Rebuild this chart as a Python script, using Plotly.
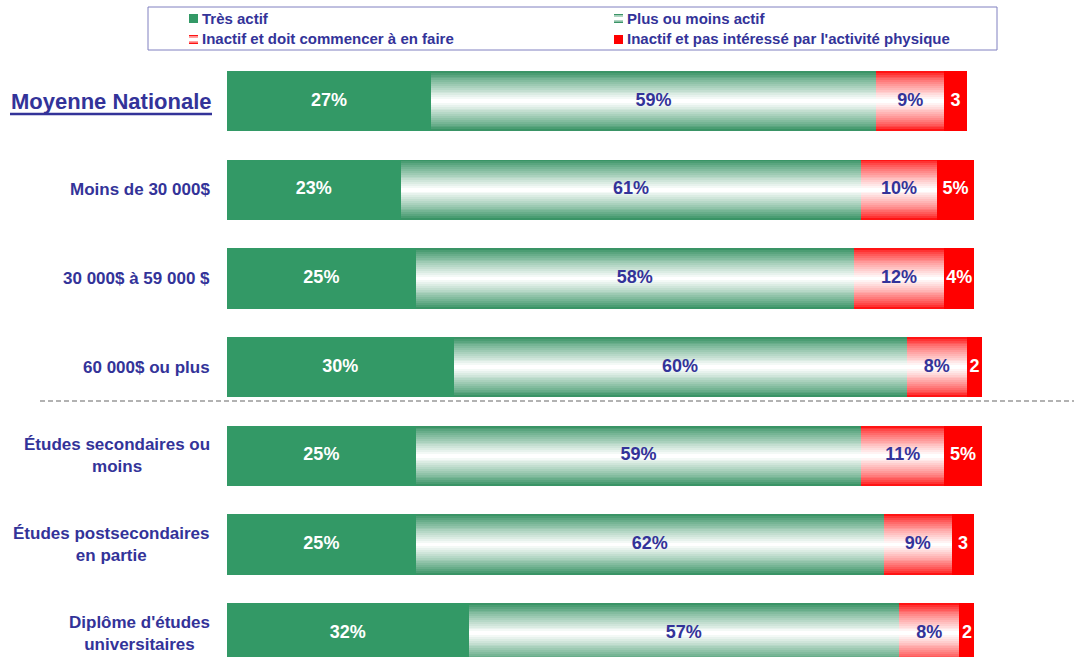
import plotly.graph_objects as go

# Survey results by income / education group (percent of respondents)
groups = [
    "Moyenne Nationale",
    "Moins de 30 000$",
    "30 000$ à 59 000 $",
    "60 000$ ou plus",
    "Études secondaires ou<br>moins",
    "Études postsecondaires<br>en partie",
    "Diplôme d'études<br>universitaires",
]
tres_actif = [27, 23, 25, 30, 25, 25, 32]
plus_ou_moins = [59, 61, 58, 60, 59, 62, 57]
inactif_doit = [9, 10, 12, 8, 11, 9, 8]
inactif_pas = [3, 5, 4, 2, 5, 3, 2]

series_names = [
    "Très actif",
    "Plus ou moins actif",
    "Inactif et doit commencer à en faire",
    "Inactif et pas intéressé par l'activité physique",
]

W, H = 1074, 657
NAVY = "#333399"
GREEN = "#339966"
GREEN_EDGE = (58, 148, 102)
RED = "#ff0000"
RED_EDGE = (255, 20, 20)
FONT = "Liberation Sans, Arial, sans-serif"

BAR_W = 0.68
ROW_PX = 88.7
FIRST_ROW_PX = 101
PX_PER_PCT = 7.55
PLOT_LEFT = 227

ys = list(range(len(groups)))
y_top = -FIRST_ROW_PX / ROW_PX
y_bot = (H - FIRST_ROW_PX) / ROW_PX
x_max = (W - PLOT_LEFT) / PX_PER_PCT


def mix(c, t):
    return "rgb(%d,%d,%d)" % tuple(round(ci + (255 - ci) * t) for ci in c)


fig = go.Figure()


def solid(values, bases, color):
    fig.add_trace(go.Bar(
        y=ys, x=values, base=bases, orientation="h", width=BAR_W,
        marker=dict(color=color, line=dict(width=0)),
        showlegend=False, hoverinfo="skip",
    ))


def gradient(values, bases, edge, n=16, power=0.9):
    # edge colour at top and bottom, fading to white in the middle
    for k in range(n):
        t = (k / (n - 1)) ** power
        fig.add_trace(go.Bar(
            y=ys, x=values, base=bases, orientation="h",
            width=BAR_W * (1 - k / n),
            marker=dict(color=mix(edge, t), line=dict(width=0)),
            showlegend=False, hoverinfo="skip",
        ))


def labels(values, bases, color, pct=True):
    txt = [f"{v}%" if (pct and v > 3) else f"{v}" for v in values]
    fig.add_trace(go.Scatter(
        y=ys, x=[b + v / 2 for b, v in zip(bases, values)], mode="text",
        text=txt, textposition="middle center",
        textfont=dict(family=FONT, size=18, color=color, weight="bold"),
        showlegend=False, hoverinfo="skip",
    ))


base0 = [0] * len(ys)
base1 = [a for a in tres_actif]
base2 = [a + b for a, b in zip(tres_actif, plus_ou_moins)]
base3 = [a + b + c for a, b, c in zip(tres_actif, plus_ou_moins, inactif_doit)]

solid(tres_actif, base0, GREEN)
gradient(plus_ou_moins, base1, GREEN_EDGE)
gradient(inactif_doit, base2, RED_EDGE, power=0.75)
solid(inactif_pas, base3, RED)

labels(tres_actif, base0, "white")
labels(plus_ou_moins, base1, NAVY)
labels(inactif_doit, base2, NAVY)
labels(inactif_pas, base3, "white")

# category labels to the left of the bars
annotations = []
for i, g in enumerate(groups):
    first = i == 0
    annotations.append(dict(
        x=(213 if first else 212) / W, xref="paper", y=i, yref="y",
        text=f"<b>{g}</b>", showarrow=False, xanchor="right", yanchor="middle",
        align="center",
        font=dict(family=FONT, size=22 if first else 17, color=NAVY),
    ))

shapes = [
    # underline of the national average label
    dict(type="line", xref="paper", yref="paper",
         x0=10 / W, x1=212 / W, y0=1 - 114 / H, y1=1 - 114 / H,
         line=dict(color=NAVY, width=2.5)),
    # separator between income and education groups
    dict(type="line", xref="paper", yref="paper",
         x0=40 / W, x1=1, y0=1 - 401 / H, y1=1 - 401 / H,
         line=dict(color="#999999", width=1.5, dash="5px,3px")),
    # legend frame
    dict(type="rect", xref="paper", yref="paper",
         x0=148 / W, x1=997 / W, y0=1 - 50 / H, y1=1 - 7 / H,
         line=dict(color="#8080c0", width=1), fillcolor="white"),
]

# legend entries: two columns, two rows
legend_pos = [(189, 18), (614, 18), (189, 39), (614, 39)]
for idx, (name, (lx, ly)) in enumerate(zip(series_names, legend_pos)):
    x0, x1 = lx / W, (lx + 9) / W
    if idx in (0, 3):
        shapes.append(dict(type="rect", xref="paper", yref="paper",
                           x0=x0, x1=x1, y0=1 - (ly + 5) / H, y1=1 - (ly - 4) / H,
                           line=dict(width=0), fillcolor=GREEN if idx == 0 else RED))
    else:
        edge = GREEN_EDGE if idx == 1 else RED_EDGE
        for j, t in enumerate([0, 0.6, 1, 1, 0.6, 0]):
            yy = ly - 4 + j * 1.5
            shapes.append(dict(type="rect", xref="paper", yref="paper",
                               x0=x0, x1=x1, y0=1 - (yy + 1.5) / H, y1=1 - yy / H,
                               line=dict(width=0), fillcolor=mix(edge, t)))
    annotations.append(dict(
        x=(lx + 11) / W, xref="paper", y=1 - ly / H, yref="paper",
        text=f"<b>{name}</b>", showarrow=False, xanchor="left", yanchor="middle",
        font=dict(family=FONT, size=15, color=NAVY),
    ))

fig.update_layout(
    width=W, height=H,
    margin=dict(l=0, r=0, t=0, b=0),
    barmode="overlay",
    bargap=0,
    plot_bgcolor="white", paper_bgcolor="white",
    xaxis=dict(domain=[PLOT_LEFT / W, 1], range=[0, x_max], visible=False),
    yaxis=dict(domain=[0, 1], range=[y_bot, y_top], visible=False),
    shapes=shapes,
    annotations=annotations,
)

fig.write_html("out.html")
